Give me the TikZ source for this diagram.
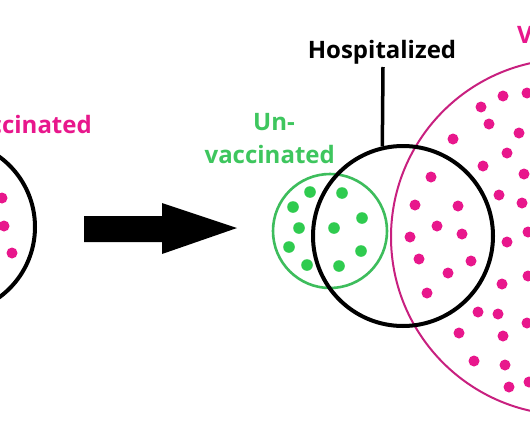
\documentclass[tikz,border=0pt]{standalone}
\usepackage{fontspec}
\setmainfont{Open Sans}
\definecolor{vpink}{HTML}{E8178C}
\definecolor{vpinkline}{HTML}{C8207F}
\definecolor{ugreen}{HTML}{2FCB4F}
\definecolor{ugreenline}{HTML}{3DBD5C}
\definecolor{ugreentext}{HTML}{3EC65E}
\tikzset{
  lbl/.style={inner sep=0pt,font=\bfseries\fontsize{24}{30}\selectfont},
  ring/.style={circle,draw,inner sep=0pt,fill=none},
  pdot/.style={fill=vpink},
  gdot/.style={fill=ugreen},
}
\begin{document}
\begin{tikzpicture}[x=1pt,y=-1pt]
\useasboundingbox (0,0) rectangle (530,442);
\clip (0,0) rectangle (530,442);
\fill[white] (0,0) rectangle (530,442);
% rings
\node[ring,draw=vpinkline,line width=2pt,minimum size=356pt] (vc) at (569,237) {};
\node[ring,draw=ugreenline,line width=2.6pt,minimum size=114pt] (uc) at (330,231) {};
\node[ring,draw=black,line width=4pt,minimum size=180pt] (hc) at (403,236) {};
\node[ring,draw=black,line width=4pt,minimum size=174pt] (lc) at (-52,227) {};
% arrow
\fill[black] (84,216) -- (162,216) -- (162,203) -- (237,228) -- (162,254) -- (162,242) -- (84,242) -- cycle;
% dots
\foreach \x/\y in {2/198,4/226,12/253,
  503/96,527/93,481/107,489/124,519/133,453/139,507/153,483/166,524/174,431/177,
  499/195,522/203,415/205,458/206,437/226,528/232,410/237,462/234,507/242,
  419/259,471/261,448/273,528/276,502/284,427/293,478/312,498/314,527/323,
  459/333,503/336,474/361,505/365,509/387,529/382}
  \fill[pdot] (\x,\y) circle (5.5pt);
\foreach \x/\y in {310/192,342/193,293/207,362/218,299/228,334/228,289/247,361/251,307/265,339/266}
  \fill[gdot] (\x,\y) circle (5.8pt);
% labels
\node[lbl,anchor=base] (hosp) at (382,58) {Hospitalized};
\coordinate (lt) at (383,67);
\draw[line width=3.5pt] (lt) -- (hc.103);
\node[lbl,text=ugreentext,anchor=base] (un1) at (274,130) {Un-};
\node[lbl,text=ugreentext,anchor=base east] (un2) at (335,163) {vaccinated};
\node[lbl,text=vpink,anchor=base east] (vl) at (92,133) {Vaccinated};
\node[lbl,text=vpink,anchor=base west] (vr) at (517,43) {Vaccinated};
\end{tikzpicture}
\end{document}
